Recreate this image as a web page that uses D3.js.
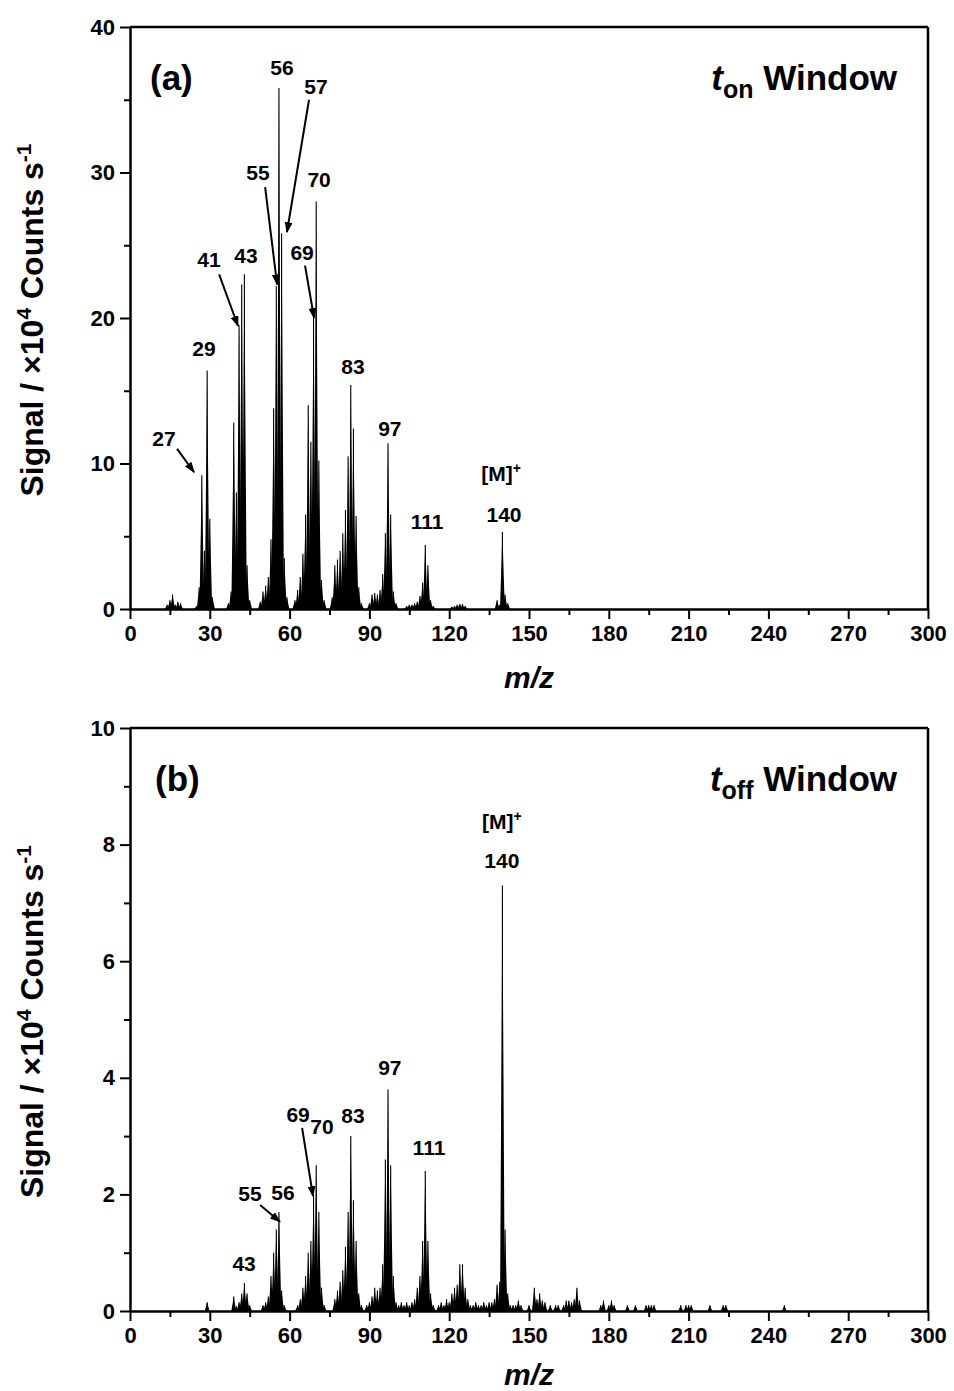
<!DOCTYPE html>
<html><head><meta charset="utf-8">
<script src="https://cdn.jsdelivr.net/npm/d3@7"></script>
<style>
body{margin:0;background:#fff}
text{font-family:"Liberation Sans",Arial,sans-serif;font-weight:bold;fill:#000}
</style>
</head><body>
<svg id="c" width="954" height="1391"></svg>
<script>
// ---------- DATA ----------
const mzA  = [14,15,16,17,18,19, 25,26,27,28,29,30,31, 37,38,39,40,41,42,43,44,45,
  49,50,51,52,53,54,55,56,57,58,59, 62,63,64,65,66,67,68,69,70,71,72,73,
  76,77,78,79,80,81,82,83,84,85,86,87, 90,91,92,93,94,95,96,97,98,99,100,
  104,105,106,107,108,109,110,111,112,113,114, 121,122,123,124,125,126, 138,139,140,141,142];
const sigA = [0.3,0.6,1.0,0.3,0.5,0.4, 0.2,1.5,9.2,4.0,16.4,6.2,0.8, 0.4,1.2,12.8,8.0,19.5,22.3,23.0,3.0,0.6,
  0.5,1.2,1.6,2.2,4.8,13.8,22.2,35.8,25.8,3.5,0.8, 0.6,1.3,2.2,3.8,6.5,14.0,11.5,20.2,28.0,10.2,2.0,0.6,
  0.8,3.0,3.4,4.0,5.2,6.8,10.5,15.4,12.4,6.4,1.5,0.4, 0.4,1.0,1.1,1.0,1.3,2.4,5.2,11.4,6.5,1.2,0.4,
  0.2,0.3,0.3,0.4,0.5,0.9,1.8,4.4,3.0,0.6,0.2, 0.15,0.2,0.3,0.35,0.35,0.2, 0.6,0.3,5.3,1.0,0.4];

const mzB  = [29, 39,40,41,42,43,44,45, 50,51,52,53,54,55,56,57,58,
  63,64,65,66,67,68,69,70,71,72,73, 77,78,79,80,81,82,83,84,85,86,87,
  89,90,91,92,93,94,95,96,97,98,99,100,101,102,103,
  104,105,106,107,108,109,110,111,112,113,114,
  116,117,118,119,120,121,122,123,124,125,126,127,128,
  129,130,131,132,133,134,135,136,137,
  138,139,140,141,142,143,144,145,146,147,
  150,152,153,154,155,156,158,160,161,163,164,165,166,167,168,169,
  177,178,180,181,182,187,190,194,195,196,197,207,209,210,211,218,223,224,246];
const sigB = [0.15, 0.25,0.08,0.15,0.3,0.48,0.3,0.1, 0.1,0.15,0.25,0.6,1.0,1.4,1.7,0.35,0.1,
  0.1,0.2,0.4,0.6,1.0,1.2,2.0,2.5,1.7,0.4,0.1, 0.2,0.35,0.5,0.7,1.1,1.7,3.0,1.9,1.2,0.3,0.1,
  0.1,0.15,0.25,0.4,0.35,0.4,0.8,2.6,3.8,2.5,0.6,0.15,0.1,0.15,0.1,
  0.15,0.1,0.15,0.2,0.4,0.6,1.2,2.4,1.2,0.3,0.1,
  0.1,0.15,0.1,0.2,0.15,0.3,0.4,0.45,0.8,0.8,0.4,0.2,0.1,
  0.1,0.15,0.1,0.1,0.15,0.1,0.15,0.15,0.2,
  0.45,0.5,7.3,1.4,0.3,0.1,0.1,0.1,0.18,0.1,
  0.1,0.4,0.2,0.3,0.18,0.15,0.1,0.1,0.1,0.1,0.18,0.18,0.15,0.2,0.4,0.18,
  0.1,0.18,0.1,0.18,0.1,0.1,0.1,0.1,0.1,0.1,0.1,0.1,0.1,0.1,0.1,0.1,0.1,0.1,0.1];

const xTicks      = [0,30,60,90,120,150,180,210,240,270,300];
const xMinorTicks = [15,45,75,105,135,165,195,225,255,285];
const yTicksA      = [0,10,20,30,40];
const yMinorTicksA = [5,15,25,35];
const yTicksB      = [0,2,4,6,8,10];
const yMinorTicksB = [1,3,5,7,9];

// peak labels: text, m/z centre, signal centre
const labelsA = [["56",57.1,37.2],["57",69.9,35.9],["55",48.1,30.0],["70",71.1,29.5],
  ["41",29.7,24.0],["43",43.6,24.3],["69",64.7,24.5],["29",27.8,17.9],["83",83.8,16.7],
  ["97",97.7,12.4],["27",12.8,11.7],["111",111.7,6.0],["140",140.6,6.5]];
const labelsB = [["140",139.8,7.72],["97",97.7,4.17],["83",83.8,3.36],["69",63.2,3.38],
  ["70",72.2,3.17],["111",112.4,2.81],["55",45.1,2.02],["56",57.5,2.04],["43",42.9,0.81]];
const ionA = [139.5, 9.3];
const ionB = [139.8, 8.40];
// arrows: from (m/z, signal) to (m/z, signal)
const arrowsA = [[17.7,11.0,24.1,9.4],[33.5,23.0,40.6,19.45],[50.8,29.0,55.3,22.3],
  [67.3,35.0,59.0,25.9],[65.8,23.6,69.2,20.0]];
const arrowsB = [[64.7,3.14,68.8,1.97],[48.9,1.82,56.4,1.53]];

// ---------- DRAW ----------
const svg = d3.select("#c");
const defs = svg.append("defs");
defs.append("marker").attr("id","ah").attr("viewBox","0 0 11 8")
  .attr("markerUnits","userSpaceOnUse").attr("markerWidth",11).attr("markerHeight",8)
  .attr("refX",10).attr("refY",4).attr("orient","auto")
  .append("path").attr("d","M0,0L11,4L0,8Z").attr("fill","#000");

const L = 130, R = 928;
const x = d3.scaleLinear().domain([0,300]).range([L,R]);
const hw = 0.9;

function panel(cfg){
  const g = svg.append("g");
  const y = d3.scaleLinear().domain([0,cfg.ymax]).range([cfg.bottom,cfg.top]);
  const data = d3.zip(cfg.mz, cfg.sig);
  // peaks
  g.append("g").selectAll("path").data(data).join("path")
    .attr("d", ([m,v]) => `M${x(m-hw)},${y(0)}L${x(m)},${y(v)}L${x(m+hw)},${y(0)}Z`)
    .attr("fill","#000");
  g.append("g").selectAll("line").data(data).join("line")
    .attr("x1",([m])=>x(m)).attr("x2",([m])=>x(m))
    .attr("y1",y(0)).attr("y2",([,v])=>y(v))
    .attr("stroke","#000").attr("stroke-width",1.1);

  // frame
  g.append("line").attr("x1",L).attr("x2",R).attr("y1",cfg.top).attr("y2",cfg.top).attr("stroke","#000").attr("stroke-width",2.5);
  g.append("line").attr("x1",R).attr("x2",R).attr("y1",cfg.top).attr("y2",cfg.bottom).attr("stroke","#000").attr("stroke-width",2.5);

  // axes
  const fs = "22px";
  const ax = g.append("g").attr("transform",`translate(0,${cfg.bottom})`)
    .call(d3.axisBottom(x).tickValues(xTicks).tickSize(10).tickSizeOuter(0).tickPadding(6));
  const axm = g.append("g").attr("transform",`translate(0,${cfg.bottom})`)
    .call(d3.axisBottom(x).tickValues(xMinorTicks).tickSize(6).tickFormat(""));
  const ay = g.append("g").attr("transform",`translate(${L},0)`)
    .call(d3.axisLeft(y).tickValues(cfg.yt).tickSize(10).tickSizeOuter(0).tickPadding(5));
  const aym = g.append("g").attr("transform",`translate(${L},0)`)
    .call(d3.axisLeft(y).tickValues(cfg.ytm).tickSize(6).tickFormat(""));
  [ax,axm,ay,aym].forEach(a=>{
    a.selectAll(".domain").attr("stroke-width",2.5).attr("stroke","#000");
    a.selectAll(".tick line").attr("stroke-width",2).attr("stroke","#000");
    a.selectAll("text").style("font-family","'Liberation Sans',Arial,sans-serif")
      .style("font-weight","bold").style("font-size",fs).attr("fill","#000");
  });
  axm.select(".domain").remove(); aym.select(".domain").remove();

  // axis titles
  g.append("text").attr("x",(L+R)/2).attr("y",cfg.bottom+cfg.xtOff).attr("text-anchor","middle")
    .style("font-size","30px").style("font-style","italic").text("m/z");
  const yl = g.append("text").attr("transform",`translate(43,${(cfg.top+cfg.bottom)/2+2}) rotate(-90)`)
    .attr("text-anchor","middle").style("font-size","32px");
  yl.append("tspan").text("Signal / ×10");
  yl.append("tspan").attr("dy",-12).style("font-size","21px").text("4");
  yl.append("tspan").attr("dy",12).text(" Counts s");
  yl.append("tspan").attr("dy",-12).style("font-size","21px").text("-1");

  // panel tag + window title
  g.append("text").attr("x",cfg.tagX).attr("y",cfg.top+63).style("font-size","35px").text(cfg.tag);
  const tt = g.append("text").attr("x",897).attr("y",cfg.top+63).attr("text-anchor","end").style("font-size","35px");
  tt.append("tspan").style("font-style","italic").text("t");
  tt.append("tspan").attr("dy",8).style("font-size","25px").text(cfg.sub);
  tt.append("tspan").attr("dy",-8).text(" Window");

  // peak labels
  g.append("g").selectAll("text").data(cfg.labels).join("text")
    .attr("x",d=>x(d[1])).attr("y",d=>y(d[2])).attr("dy","0.36em")
    .attr("text-anchor","middle").style("font-size","21px").text(d=>d[0]);
  const ion = g.append("text").attr("x",x(cfg.ion[0])).attr("y",y(cfg.ion[1])).attr("dy","0.36em")
    .attr("text-anchor","middle").style("font-size","21px");
  ion.append("tspan").text("[M]");
  ion.append("tspan").attr("dy",-8).style("font-size","14px").text("+");

  // arrows
  g.append("g").selectAll("line").data(cfg.arrows).join("line")
    .attr("x1",d=>x(d[0])).attr("y1",d=>y(d[1])).attr("x2",d=>x(d[2])).attr("y2",d=>y(d[3]))
    .attr("stroke","#000").attr("stroke-width",2).attr("marker-end","url(#ah)");
}

panel({mz:mzA,sig:sigA,ymax:40,top:27,bottom:609,yt:yTicksA,ytm:yMinorTicksA,xtOff:79,
  labels:labelsA,ion:ionA,arrows:arrowsA,tag:"(a)",tagX:150,sub:"on"});
panel({mz:mzB,sig:sigB,ymax:10,top:728,bottom:1311,yt:yTicksB,ytm:yMinorTicksB,xtOff:74,
  labels:labelsB,ion:ionB,arrows:arrowsB,tag:"(b)",tagX:155,sub:"off"});
</script>
</body></html>
